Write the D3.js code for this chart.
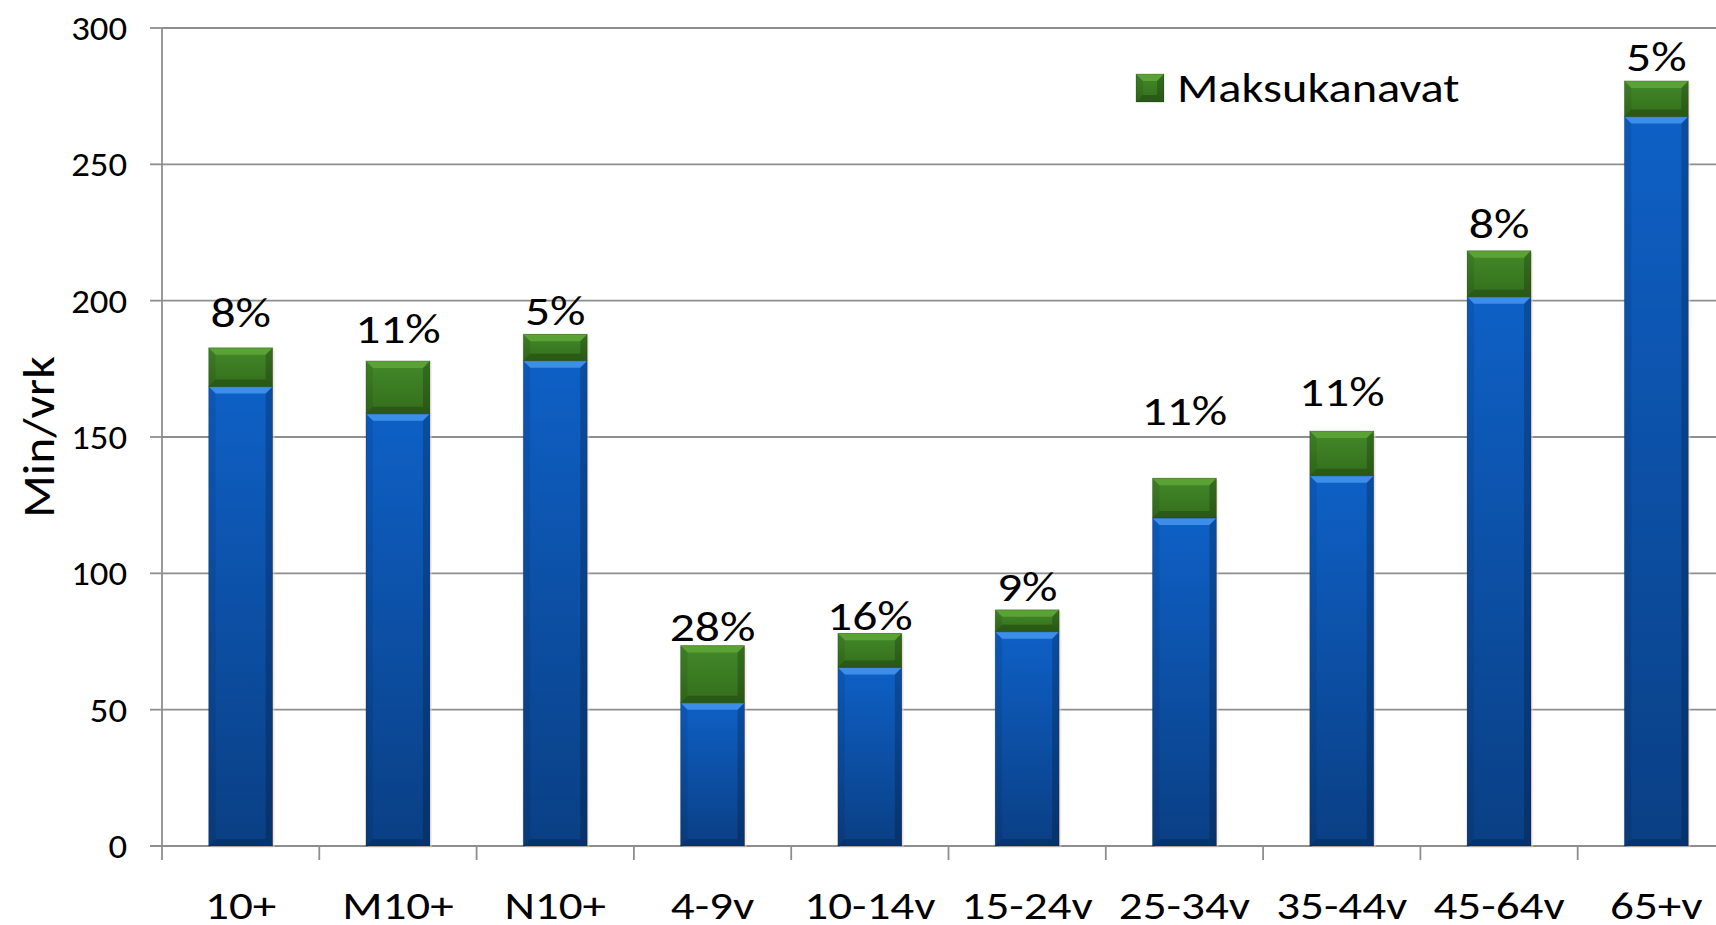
<!DOCTYPE html>
<html>
<head>
<meta charset="utf-8">
<script src="https://cdn.jsdelivr.net/npm/d3@7"></script>
<style>
  html, body { margin: 0; padding: 0; background: #fff; overflow: hidden; }
  svg { display: block; font-family: Carlito, Calibri, Lato, sans-serif; }
</style>
</head>
<body>
<div id="chart"></div>
<script>
// Minutes per day
const categories = ['10+', 'M10+', 'N10+', '4-9v', '10-14v', '15-24v', '25-34v', '35-44v', '45-64v', '65+v'];
const otherChannels = [168.5, 158.5, 178, 52.5, 65.5, 78.6, 120.3, 135.8, 201.4, 267.5];
const payChannels = [14.2, 19.4, 9.7, 21.0, 12.5, 8.0, 14.6, 16.4, 16.9, 13.1];
const shareLabels = ['8%', '11%', '5%', '28%', '16%', '9%', '11%', '11%', '8%', '5%'];
// value level where each share label sits
const labelAt = [190.5, 184.6, 191, 75.3, 79.2, 90, 154.4, 161.4, 222.9, 284.3];
const yTicks = [0, 50, 100, 150, 200, 250, 300];
const legendLabel = 'Maksukanavat';
const yTitle = 'Min/vrk';

const width = 1716, height = 925;
const x0 = 162, x1 = 1735, yBottom = 846, yTop = 28;
const stretch = 1.18; // glyphs in the original are wider than Lato

const svg = d3.select('#chart').append('svg')
  .attr('width', width)
  .attr('height', height);

const defs = svg.append('defs');
function vGrad(id, stops) {
  const g = defs.append('linearGradient').attr('id', id)
    .attr('x1', 0).attr('y1', 0).attr('x2', 0).attr('y2', 1);
  stops.forEach(([o, c]) => g.append('stop').attr('offset', o).attr('stop-color', c));
}
vGrad('blueBody', [[0, '#0e60c6'], [1, '#0a3f84']]);
vGrad('greenBody', [[0, '#43892a'], [1, '#346e1b']]);

const x = d3.scaleBand().domain(categories).range([x0, x1]).padding(0);
const y = d3.scaleLinear().domain([0, 300]).range([yBottom, yTop]);
const barW = x.bandwidth() * 0.407;

// text placed at (tx, ty), widened horizontally
function label(g, tx, ty, str, size, anchor, sx) {
  return g.append('text')
    .attr('transform', `translate(${tx},${ty}) scale(${sx},1)`)
    .attr('text-anchor', anchor)
    .attr('font-size', size)
    .attr('fill', '#000')
    .text(str);
}

// gridlines
svg.append('g')
  .selectAll('line')
  .data(yTicks.filter(d => d > 0))
  .join('line')
  .attr('x1', x0).attr('x2', width)
  .attr('y1', d => y(d)).attr('y2', d => y(d))
  .attr('stroke', '#8e8e8e')
  .attr('stroke-width', 1.8);

// y axis
svg.append('g')
  .selectAll('line')
  .data(yTicks)
  .join('line')
  .attr('x1', x0 - 12).attr('x2', x0)
  .attr('y1', d => y(d)).attr('y2', d => y(d))
  .attr('stroke', '#8e8e8e').attr('stroke-width', 1.8);
const yLab = svg.append('g');
yTicks.forEach(t => label(yLab, 127, y(t) + 12, String(t), 34, 'end', 1.08));
svg.append('line')
  .attr('x1', x0).attr('x2', x0)
  .attr('y1', yTop).attr('y2', yBottom + 14)
  .attr('stroke', '#8e8e8e').attr('stroke-width', 1.8);

// x axis with ticks at category boundaries
svg.append('line')
  .attr('x1', x0 - 12).attr('x2', width)
  .attr('y1', yBottom).attr('y2', yBottom)
  .attr('stroke', '#8e8e8e').attr('stroke-width', 1.8);
svg.append('g')
  .selectAll('line')
  .data(categories.slice(1))
  .join('line')
  .attr('x1', d => x(d)).attr('x2', d => x(d))
  .attr('y1', yBottom).attr('y2', yBottom + 14)
  .attr('stroke', '#8e8e8e').attr('stroke-width', 1.8);
const xLab = svg.append('g');
categories.forEach(c => label(xLab, x(c) + x.bandwidth() / 2, 919, c, 38, 'middle', 1.24));

// bevelled block
function bevelBlock(g, bx, by, w, h, body, light, dark) {
  const b = Math.min(7, h / 2);
  g.append('rect').attr('x', bx).attr('y', by).attr('width', w).attr('height', h)
    .attr('fill', `url(#${body})`);
  const poly = pts => g.append('polygon').attr('points', pts.map(p => p.join(',')).join(' '));
  poly([[bx, by], [bx + w, by], [bx + w - b, by + b], [bx + b, by + b]]).attr('fill', light);
  poly([[bx, by + h], [bx + w, by + h], [bx + w - b, by + h - b], [bx + b, by + h - b]]).attr('fill', dark).attr('opacity', 0.55);
  poly([[bx, by], [bx + b, by + b], [bx + b, by + h - b], [bx, by + h]]).attr('fill', '#000').attr('opacity', 0.08);
  poly([[bx + w, by], [bx + w - b, by + b], [bx + w - b, by + h - b], [bx + w, by + h]]).attr('fill', '#000').attr('opacity', 0.2);
  g.append('rect').attr('x', bx).attr('y', by).attr('width', w).attr('height', h)
    .attr('fill', 'none').attr('stroke', '#000').attr('stroke-opacity', 0.18).attr('stroke-width', 1);
}

const bars = svg.append('g');
categories.forEach((c, i) => {
  const bx = x(c) + (x.bandwidth() - barW) / 2;
  const total = otherChannels[i] + payChannels[i];
  // soft shadow
  bars.append('rect')
    .attr('x', bx + 2).attr('y', y(total) + 2)
    .attr('width', barW).attr('height', yBottom - y(total))
    .attr('fill', '#f3d9cc').attr('opacity', 0.5);
  bevelBlock(bars, bx, y(otherChannels[i]), barW, yBottom - y(otherChannels[i]),
    'blueBody', '#3c8ee9', '#062c5e');
  bevelBlock(bars, bx, y(total), barW, y(otherChannels[i]) - y(total),
    'greenBody', '#5aa233', '#1f4710');
});

// share labels
const pct = svg.append('g');
categories.forEach((c, i) =>
  label(pct, x(c) + x.bandwidth() / 2, y(labelAt[i]), shareLabels[i], 42, 'middle', stretch));

// legend
const leg = svg.append('g');
bevelBlock(leg, 1136, 74, 28, 28, 'greenBody', '#5aa233', '#1f4710');
label(leg, 1177, 102, legendLabel, 41, 'start', stretch);

// y title
svg.append('text')
  .attr('transform', `translate(54,${(yTop + yBottom) / 2}) rotate(-90) scale(1.08,1)`)
  .attr('text-anchor', 'middle')
  .attr('font-size', 46)
  .attr('fill', '#000')
  .text(yTitle);
</script>
</body>
</html>
